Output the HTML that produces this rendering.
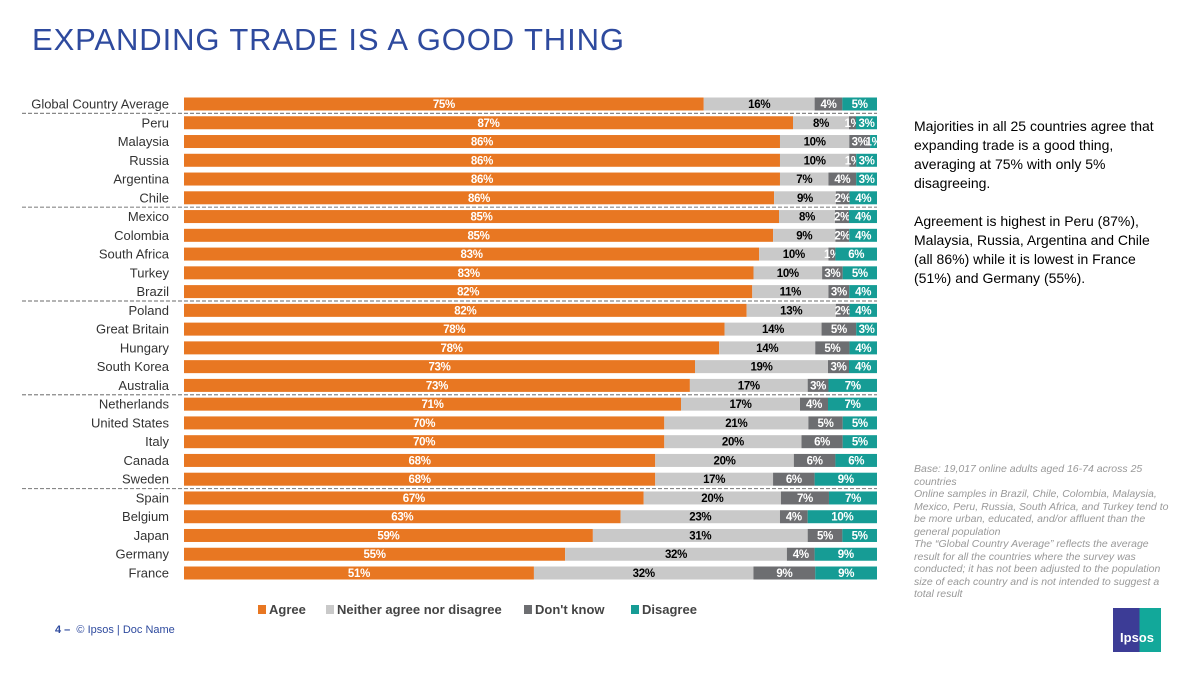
<!DOCTYPE html>
<html><head><meta charset="utf-8"><style>
body{margin:0;width:1200px;height:675px;background:#fff;position:relative;overflow:hidden;font-family:"Liberation Sans",sans-serif}
.abs{position:absolute}
#title{left:32px;top:22px;font-size:31px;color:#2E4A9E;letter-spacing:0.9px;white-space:nowrap}
#note{left:914px;top:117px;width:256px;font-size:14px;line-height:19px;color:#000}
#base{left:914px;top:463px;width:258px;font-size:10.5px;line-height:12.5px;color:#999;font-style:italic}
#footer{left:55px;top:624px;font-size:11px;color:#2E4A9E}
svg text{font-family:"Liberation Sans",sans-serif}
</style></head><body>
<div id="title" class="abs">EXPANDING TRADE IS A GOOD THING</div>
<svg id="chart" class="abs" style="left:0;top:0" width="900" height="675"></svg>
<div id="note" class="abs">Majorities in all 25 countries agree that expanding trade is a good thing, averaging at 75% with only 5% disagreeing.<br><br>Agreement is highest in Peru (87%), Malaysia, Russia, Argentina and Chile (all 86%) while it is lowest in France (51%) and Germany (55%).</div>
<div id="base" class="abs">Base: 19,017 online adults aged 16-74 across 25 countries<br>Online samples in Brazil, Chile, Colombia, Malaysia, Mexico, Peru, Russia, South Africa, and Turkey tend to be more urban, educated, and/or affluent than the general population<br>The “Global Country Average” reflects the average result for all the countries where the survey was conducted; it has not been adjusted to the population size of each country and is not intended to suggest a total result</div>
<div id="footer" class="abs"><b>4 –</b>&nbsp; © Ipsos | Doc Name</div>
<div class="abs" style="left:1113px;top:608px;width:48px;height:44px;background:linear-gradient(90deg,#3C3C96 55%,#12A89A 55%);color:#fff;font-size:13px;font-weight:bold;text-align:center;line-height:60px">Ipsos</div>
<script>
const categories=["Global Country Average","Peru","Malaysia","Russia","Argentina","Chile","Mexico","Colombia","South Africa","Turkey","Brazil","Poland","Great Britain","Hungary","South Korea","Australia","Netherlands","United States","Italy","Canada","Sweden","Spain","Belgium","Japan","Germany","France"];
const agree=[75,87,86,86,86,86,85,85,83,83,82,82,78,78,73,73,71,70,70,68,68,67,63,59,55,51];
const neither=[16,8,10,10,7,9,8,9,10,10,11,13,14,14,19,17,17,21,20,20,17,20,23,31,32,32];
const dontKnow=[4,1,3,1,4,2,2,2,1,3,3,2,5,5,3,3,4,5,6,6,6,7,4,5,4,9];
const disagree=[5,3,1,3,3,4,4,4,6,5,4,4,3,4,4,7,7,5,5,6,9,7,10,5,9,9];
const seriesNames=["Agree","Neither agree nor disagree","Don't know","Disagree"];
const separatorsAfter=[0,5,10,15,20];
const NS="http://www.w3.org/2000/svg";
const svg=document.getElementById('chart');
const X0=184,W=693,Y0=104,STEP=18.76,BH=13;
const colors=["#E87722","#C9C9C9","#6D6E71","#169C95"];
const textCol=["#fff","#000","#fff","#fff"];
const xs=v=>v/100*W;
const yc=i=>Y0+i*STEP;
function mk(t,a){const e=document.createElementNS(NS,t);for(const k in a)e.setAttribute(k,a[k]);svg.appendChild(e);return e;}
const series=[agree,neither,dontKnow,disagree];
categories.forEach((c,i)=>{
  const l=mk('text',{x:169,y:yc(i)+4.5,'text-anchor':'end','font-size':13,fill:'#333'});
  l.textContent=c;
  
  
  const tot=series.reduce((s,a)=>s+a[i],0);
  let x=X0;
  series.forEach((arr,k)=>{
    const w=xs(arr[i]*100/tot);
    const r=mk('rect',{x:x,y:yc(i)-BH/2,width:w,height:BH,fill:colors[k]});
    
    
    const t=mk('text',{x:x+w/2,y:yc(i)+4,'text-anchor':'middle','font-size':11.5,'font-weight':'bold','letter-spacing':-0.3,fill:textCol[k]});
    t.textContent=arr[i]+'%';
    
    
    x+=w;
  });
});
separatorsAfter.forEach(i=>{
  const y=(yc(i)+yc(i+1))/2;
  const s=mk('line',{x1:22,x2:877,y1:y,y2:y,stroke:'#888','stroke-width':1.2,'stroke-dasharray':'4,2'});
  
  
});
const legX=[258,326,524,631];
seriesNames.forEach((n,k)=>{
  const r=mk('rect',{x:legX[k],y:605,width:8,height:9,fill:colors[k]});
  
  
  const t=mk('text',{x:legX[k]+11,y:614,'font-size':13,'font-weight':'bold',fill:'#444'});
  t.textContent=n;
  
  
});
</script>
</body></html>
